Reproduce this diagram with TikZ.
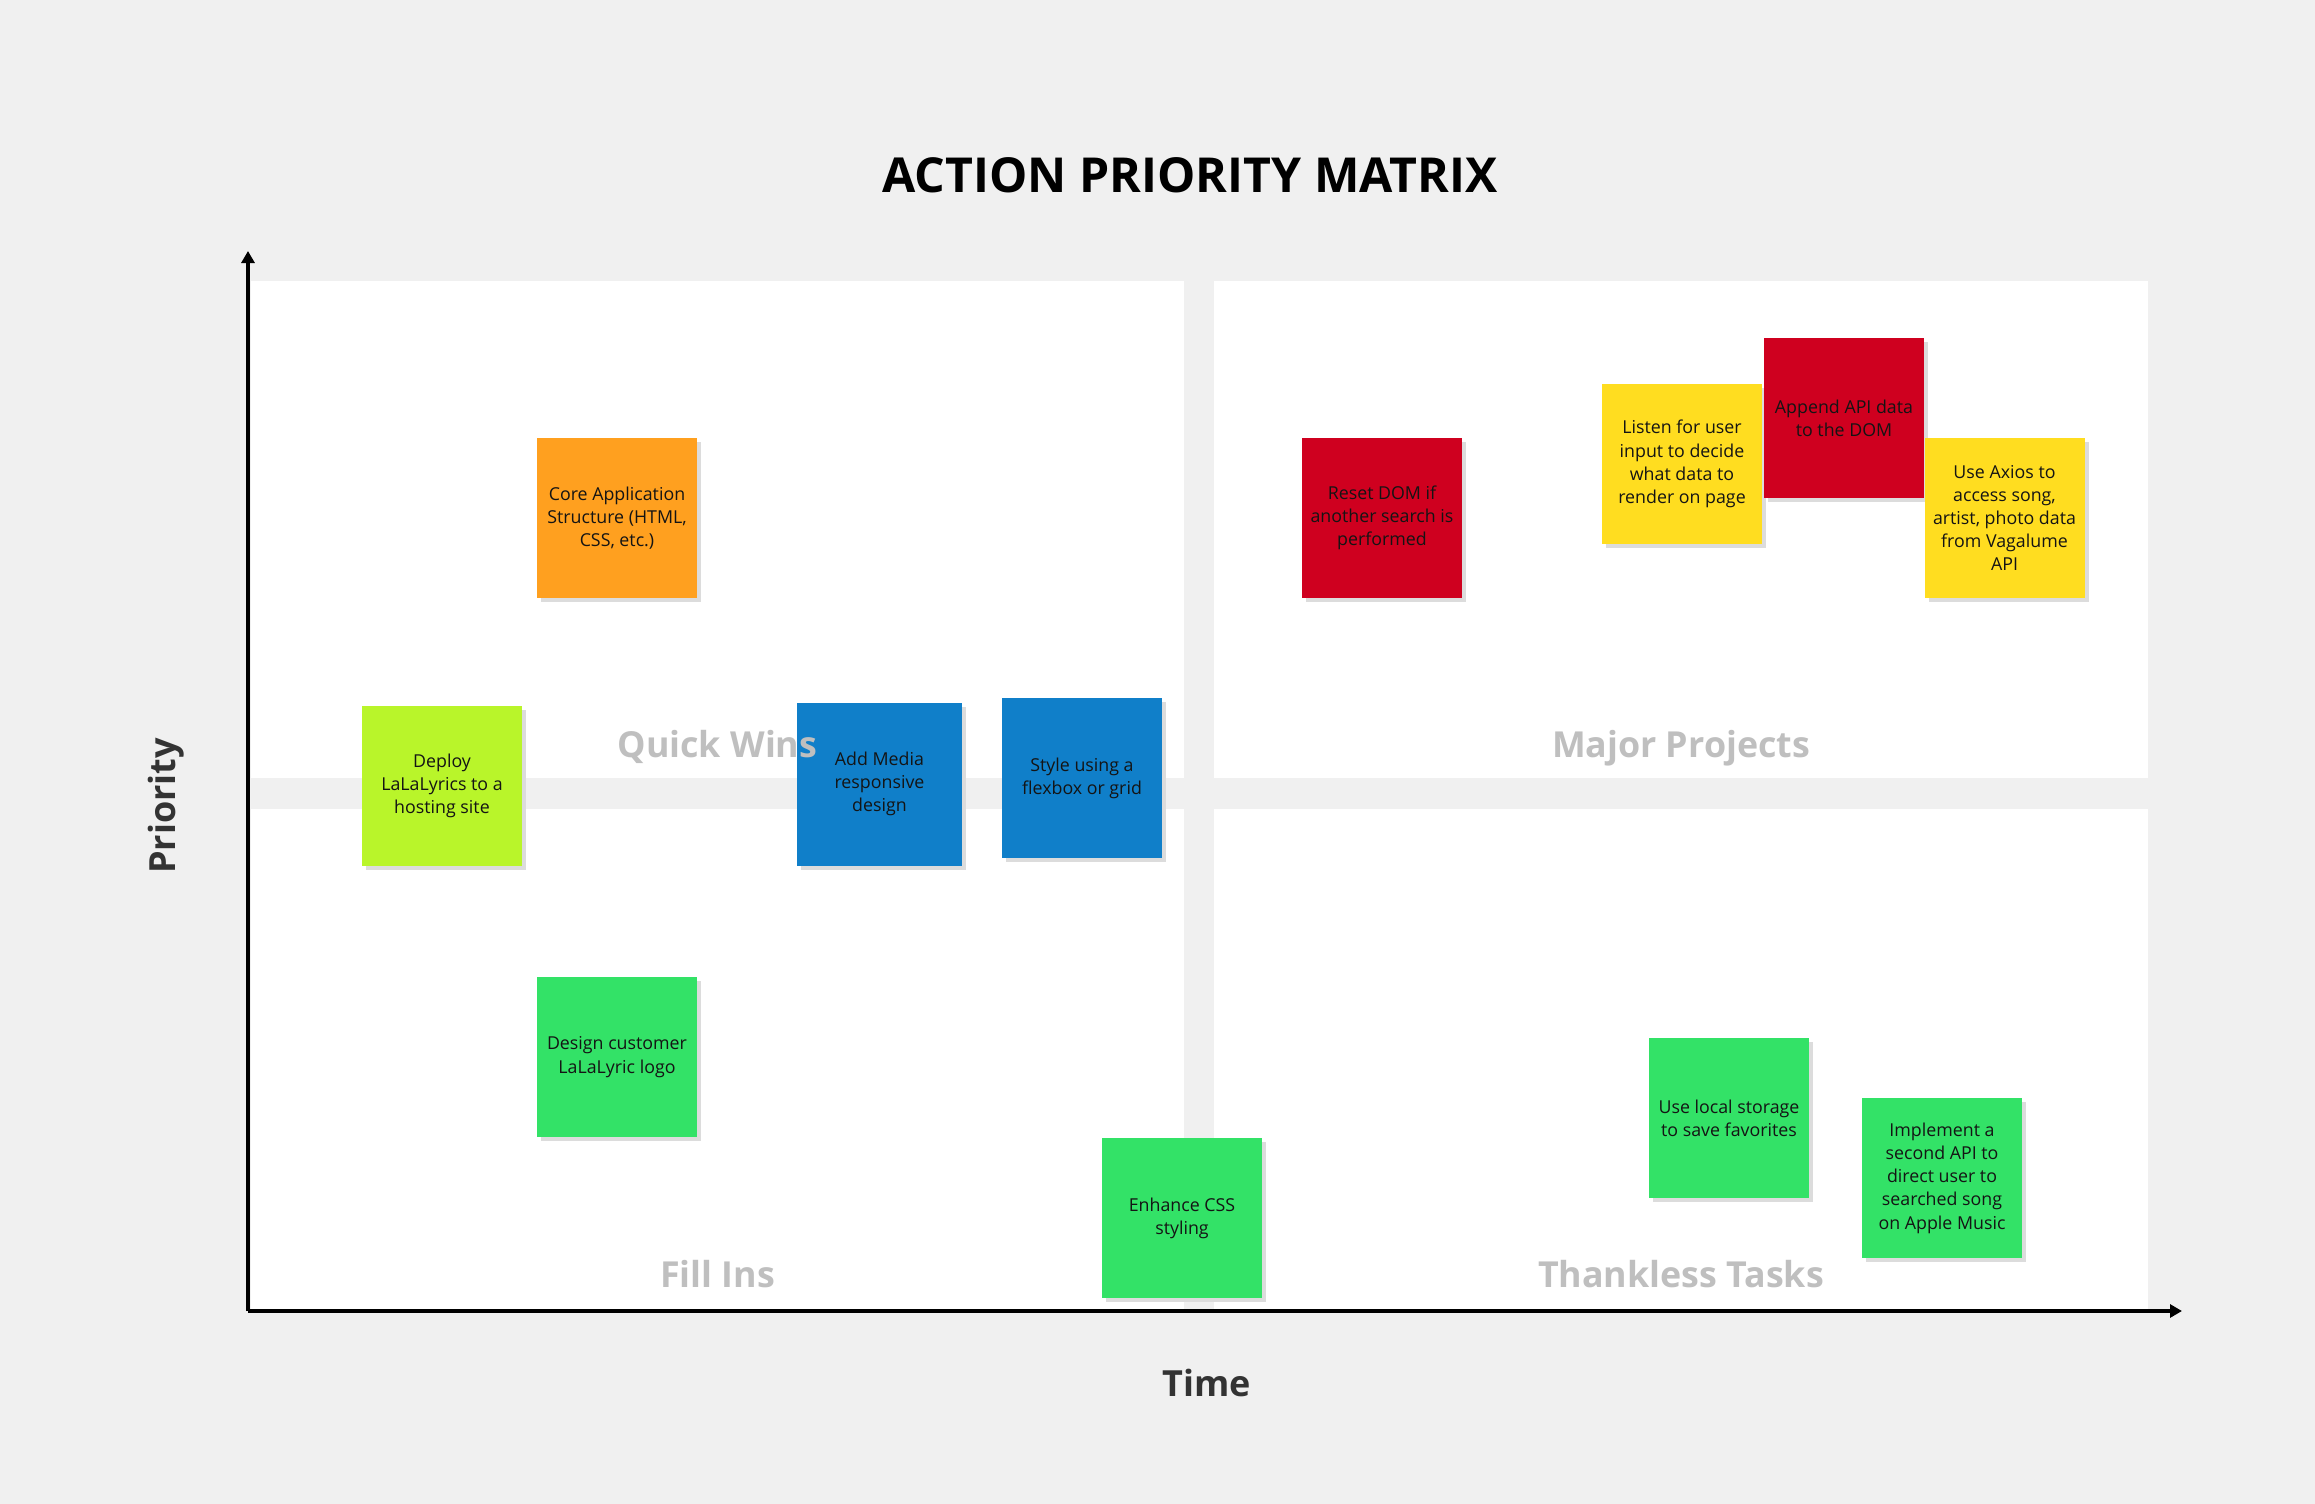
\documentclass[tikz,border=0pt]{standalone}
\usepackage{fontspec}
\setmainfont{Open Sans}
\usetikzlibrary{arrows.meta}

\definecolor{bggray}{HTML}{F0F0F0}
\definecolor{shadowgray}{HTML}{DCDCDC}
\definecolor{labelgray}{HTML}{BFBFBF}
\definecolor{axisdark}{HTML}{333333}
\definecolor{noteorange}{HTML}{FFA01F}
\definecolor{notelime}{HTML}{B9F52A}
\definecolor{noteblue}{HTML}{107FC9}
\definecolor{notered}{HTML}{CF001F}
\definecolor{noteyellow}{HTML}{FFDD20}
\definecolor{notegreen}{HTML}{33E267}

\begin{document}
\begin{tikzpicture}[x=0.5pt, y=-0.5pt,
		note/.style={rectangle, minimum width=80pt, minimum height=80pt, inner sep=0pt,
			align=center, font=\fontsize{8.9}{11.6}\selectfont, text=black!92,
			preaction={fill=shadowgray, transform canvas={shift={(2pt,-2pt)}}}},
		quadlabel/.style={anchor=base, font=\fontsize{17.9}{21}\selectfont\bfseries, text=labelgray},
		axislabel/.style={anchor=base, font=\fontsize{18}{22}\selectfont\bfseries, text=axisdark}]

			% Draw the background
			\fill[bggray] (0,0) rectangle (2315,1504);
			\useasboundingbox (0,0) rectangle (2315,1504);

			% Draw the four quadrants
			\fill[white] (251,281) rectangle (1184,778);
			\fill[white] (1214,281) rectangle (2148,778);
			\fill[white] (251,809) rectangle (1184,1311);
			\fill[white] (1214,809) rectangle (2148,1311);

			\node[anchor=base, font=\fontsize{24.1}{28}\selectfont\bfseries] (title) at (1190,192) {ACTION PRIORITY MATRIX};

			% Draw the axes
			\coordinate (origin) at (248,1311);
			\coordinate (ytip) at (248,251);
			\coordinate (xtip) at (2182,1311);
			\draw[line width=1.7pt, -{Triangle[length=6pt, width=6.5pt]}] (origin) -- (ytip);
			\draw[line width=1.7pt, -{Triangle[length=6pt, width=6.5pt]}] (origin) -- (xtip);

			\node[axislabel, rotate=90] (priority) at (175,806) {Priority};
			\node[axislabel] (time) at (1207,1396) {Time};

			% Draw the sticky notes of the left half
			\node[note, fill=noteorange] (core) at (617,518) {Core Application\\Structure (HTML,\\CSS, etc.)};
			\node[note, fill=notelime] (deploy) at (442,786) {Deploy\\LaLaLyrics to a\\hosting site};
			\node[note, fill=noteblue, minimum width=82.5pt, minimum height=81.5pt] (media) at (879.5,784) {Add Media\\responsive\\design};
			\node[note, fill=noteblue] (flexbox) at (1082,778) {Style using a\\flexbox or grid};
			\node[note, fill=notegreen] (logo) at (617,1057) {Design customer\\LaLaLyric logo};
			\node[note, fill=notegreen] (css) at (1182,1218) {Enhance CSS\\styling};

			% Draw the sticky notes of the right half
			\node[note, fill=notered] (reset) at (1382,518) {Reset DOM if\\another search is\\performed};
			\node[note, fill=noteyellow] (listen) at (1682,464) {Listen for user\\input to decide\\what data to\\render on page};
			\node[note, fill=notered] (append) at (1844,418) {Append API data\\to the DOM};
			\node[note, fill=noteyellow] (axios) at (2004.5,518) {Use Axios to\\access song,\\artist, photo data\\from Vagalume\\API};
			\node[note, fill=notegreen] (storage) at (1729,1118) {Use local storage\\to save favorites};
			\node[note, fill=notegreen] (music) at (1942,1178) {Implement a\\second API to\\direct user to\\searched song\\on Apple Music};

			% Draw the quadrant labels
			\node[quadlabel] (quick) at (717.5,757) {Quick Wins};
			\node[quadlabel] (major) at (1681,757) {Major Projects};
			\node[quadlabel] (fill) at (717.5,1287) {Fill Ins};
			\node[quadlabel] (thankless) at (1681,1287) {Thankless Tasks};

\end{tikzpicture}
\end{document}
